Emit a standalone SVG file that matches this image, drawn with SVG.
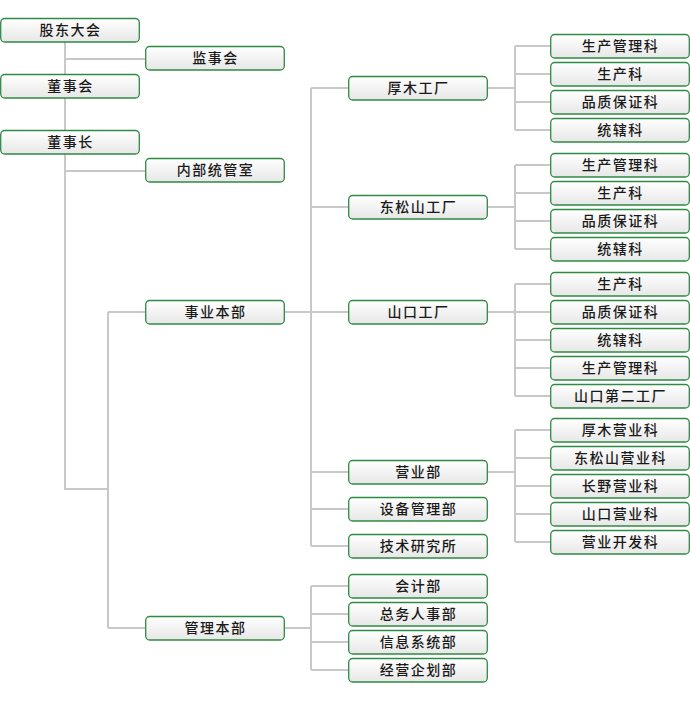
<svg xmlns="http://www.w3.org/2000/svg" width="690" height="701" viewBox="0 0 690 701">
<defs>
<linearGradient id="g" x1="0" y1="0" x2="0" y2="1">
<stop offset="0" stop-color="#ffffff"/>
<stop offset="1" stop-color="#e6e7e6"/>
</linearGradient>
<style>
rect.b{fill:url(#g);stroke:#2f8a43;stroke-width:1.3}
text{font-family:"Noto Sans CJK SC","Noto Sans CJK JP",sans-serif;font-size:14px;letter-spacing:1.5px;text-anchor:middle;fill:#1a1a1a;font-weight:500}
.c{fill:none;stroke:#c8c8c8;stroke-width:2}
</style>
</defs>
<rect width="690" height="701" fill="#ffffff"/>
<g id="connectors" class="c">
<path d="M65 42V130M65 59H145M65 154V489H108M65 171H145M108 312V628M108 312H145M108 628H145"/>
<path d="M285 312H348M311 88V546M311 88H348M311 207H348M311 472H348M311 509H348M311 546H348"/>
<path d="M285 628H311M311 586V670M311 586H348M311 614H348M311 642H348M311 670H348"/>
<path d="M488 88H515M515 46V130M515 46H550M515 74H550M515 102H550M515 130H550"/>
<path d="M488 207H515M515 165V249M515 165H550M515 193H550M515 221H550M515 249H550"/>
<path d="M488 312H515M515 284V396M515 284H550M515 312H550M515 340H550M515 368H550M515 396H550"/>
<path d="M488 472H515M515 430V542M515 430H550M515 458H550M515 486H550M515 514H550M515 542H550"/>
</g>
<g id="n1"><rect class="b" x="0.7" y="18.5" width="138.6" height="23.5" rx="4"/><text x="70.5" y="35">股东大会</text></g>
<g id="n2"><rect class="b" x="145.7" y="46.5" width="138.6" height="23.5" rx="4"/><text x="215.5" y="63">监事会</text></g>
<g id="n3"><rect class="b" x="0.7" y="74.5" width="138.6" height="23.5" rx="4"/><text x="70.5" y="91">董事会</text></g>
<g id="n4"><rect class="b" x="0.7" y="130.5" width="138.6" height="23.5" rx="4"/><text x="70.5" y="147">董事长</text></g>
<g id="n5"><rect class="b" x="145.7" y="158.5" width="138.6" height="23.5" rx="4"/><text x="215.5" y="175">内部统管室</text></g>
<g id="n6"><rect class="b" x="145.7" y="300.5" width="138.6" height="23.5" rx="4"/><text x="215.5" y="317">事业本部</text></g>
<g id="n7"><rect class="b" x="145.7" y="616.5" width="138.6" height="23.5" rx="4"/><text x="215.5" y="633">管理本部</text></g>
<g id="n8"><rect class="b" x="348.7" y="76.5" width="138.6" height="23.5" rx="4"/><text x="418.5" y="93">厚木工厂</text></g>
<g id="n9"><rect class="b" x="348.7" y="195.5" width="138.6" height="23.5" rx="4"/><text x="418.5" y="212">东松山工厂</text></g>
<g id="n10"><rect class="b" x="348.7" y="300.5" width="138.6" height="23.5" rx="4"/><text x="418.5" y="317">山口工厂</text></g>
<g id="n11"><rect class="b" x="348.7" y="460.5" width="138.6" height="23.5" rx="4"/><text x="418.5" y="477">营业部</text></g>
<g id="n12"><rect class="b" x="348.7" y="497.5" width="138.6" height="23.5" rx="4"/><text x="418.5" y="514">设备管理部</text></g>
<g id="n13"><rect class="b" x="348.7" y="534.5" width="138.6" height="23.5" rx="4"/><text x="418.5" y="551">技术研究所</text></g>
<g id="n14"><rect class="b" x="348.7" y="574.5" width="138.6" height="23.5" rx="4"/><text x="418.5" y="591">会计部</text></g>
<g id="n15"><rect class="b" x="348.7" y="602.5" width="138.6" height="23.5" rx="4"/><text x="418.5" y="619">总务人事部</text></g>
<g id="n16"><rect class="b" x="348.7" y="630.5" width="138.6" height="23.5" rx="4"/><text x="418.5" y="647">信息系统部</text></g>
<g id="n17"><rect class="b" x="348.7" y="658.5" width="138.6" height="23.5" rx="4"/><text x="418.5" y="675">经营企划部</text></g>
<g id="n18"><rect class="b" x="550.7" y="34.5" width="138.6" height="23.5" rx="4"/><text x="620.5" y="51">生产管理科</text></g>
<g id="n19"><rect class="b" x="550.7" y="62.5" width="138.6" height="23.5" rx="4"/><text x="620.5" y="79">生产科</text></g>
<g id="n20"><rect class="b" x="550.7" y="90.5" width="138.6" height="23.5" rx="4"/><text x="620.5" y="107">品质保证科</text></g>
<g id="n21"><rect class="b" x="550.7" y="118.5" width="138.6" height="23.5" rx="4"/><text x="620.5" y="135">统辖科</text></g>
<g id="n22"><rect class="b" x="550.7" y="153.5" width="138.6" height="23.5" rx="4"/><text x="620.5" y="170">生产管理科</text></g>
<g id="n23"><rect class="b" x="550.7" y="181.5" width="138.6" height="23.5" rx="4"/><text x="620.5" y="198">生产科</text></g>
<g id="n24"><rect class="b" x="550.7" y="209.5" width="138.6" height="23.5" rx="4"/><text x="620.5" y="226">品质保证科</text></g>
<g id="n25"><rect class="b" x="550.7" y="237.5" width="138.6" height="23.5" rx="4"/><text x="620.5" y="254">统辖科</text></g>
<g id="n26"><rect class="b" x="550.7" y="272.5" width="138.6" height="23.5" rx="4"/><text x="620.5" y="289">生产科</text></g>
<g id="n27"><rect class="b" x="550.7" y="300.5" width="138.6" height="23.5" rx="4"/><text x="620.5" y="317">品质保证科</text></g>
<g id="n28"><rect class="b" x="550.7" y="328.5" width="138.6" height="23.5" rx="4"/><text x="620.5" y="345">统辖科</text></g>
<g id="n29"><rect class="b" x="550.7" y="356.5" width="138.6" height="23.5" rx="4"/><text x="620.5" y="373">生产管理科</text></g>
<g id="n30"><rect class="b" x="550.7" y="384.5" width="138.6" height="23.5" rx="4"/><text x="620.5" y="401">山口第二工厂</text></g>
<g id="n31"><rect class="b" x="550.7" y="418.5" width="138.6" height="23.5" rx="4"/><text x="620.5" y="435">厚木营业科</text></g>
<g id="n32"><rect class="b" x="550.7" y="446.5" width="138.6" height="23.5" rx="4"/><text x="620.5" y="463">东松山营业科</text></g>
<g id="n33"><rect class="b" x="550.7" y="474.5" width="138.6" height="23.5" rx="4"/><text x="620.5" y="491">长野营业科</text></g>
<g id="n34"><rect class="b" x="550.7" y="502.5" width="138.6" height="23.5" rx="4"/><text x="620.5" y="519">山口营业科</text></g>
<g id="n35"><rect class="b" x="550.7" y="530.5" width="138.6" height="23.5" rx="4"/><text x="620.5" y="547">营业开发科</text></g>
</svg>
